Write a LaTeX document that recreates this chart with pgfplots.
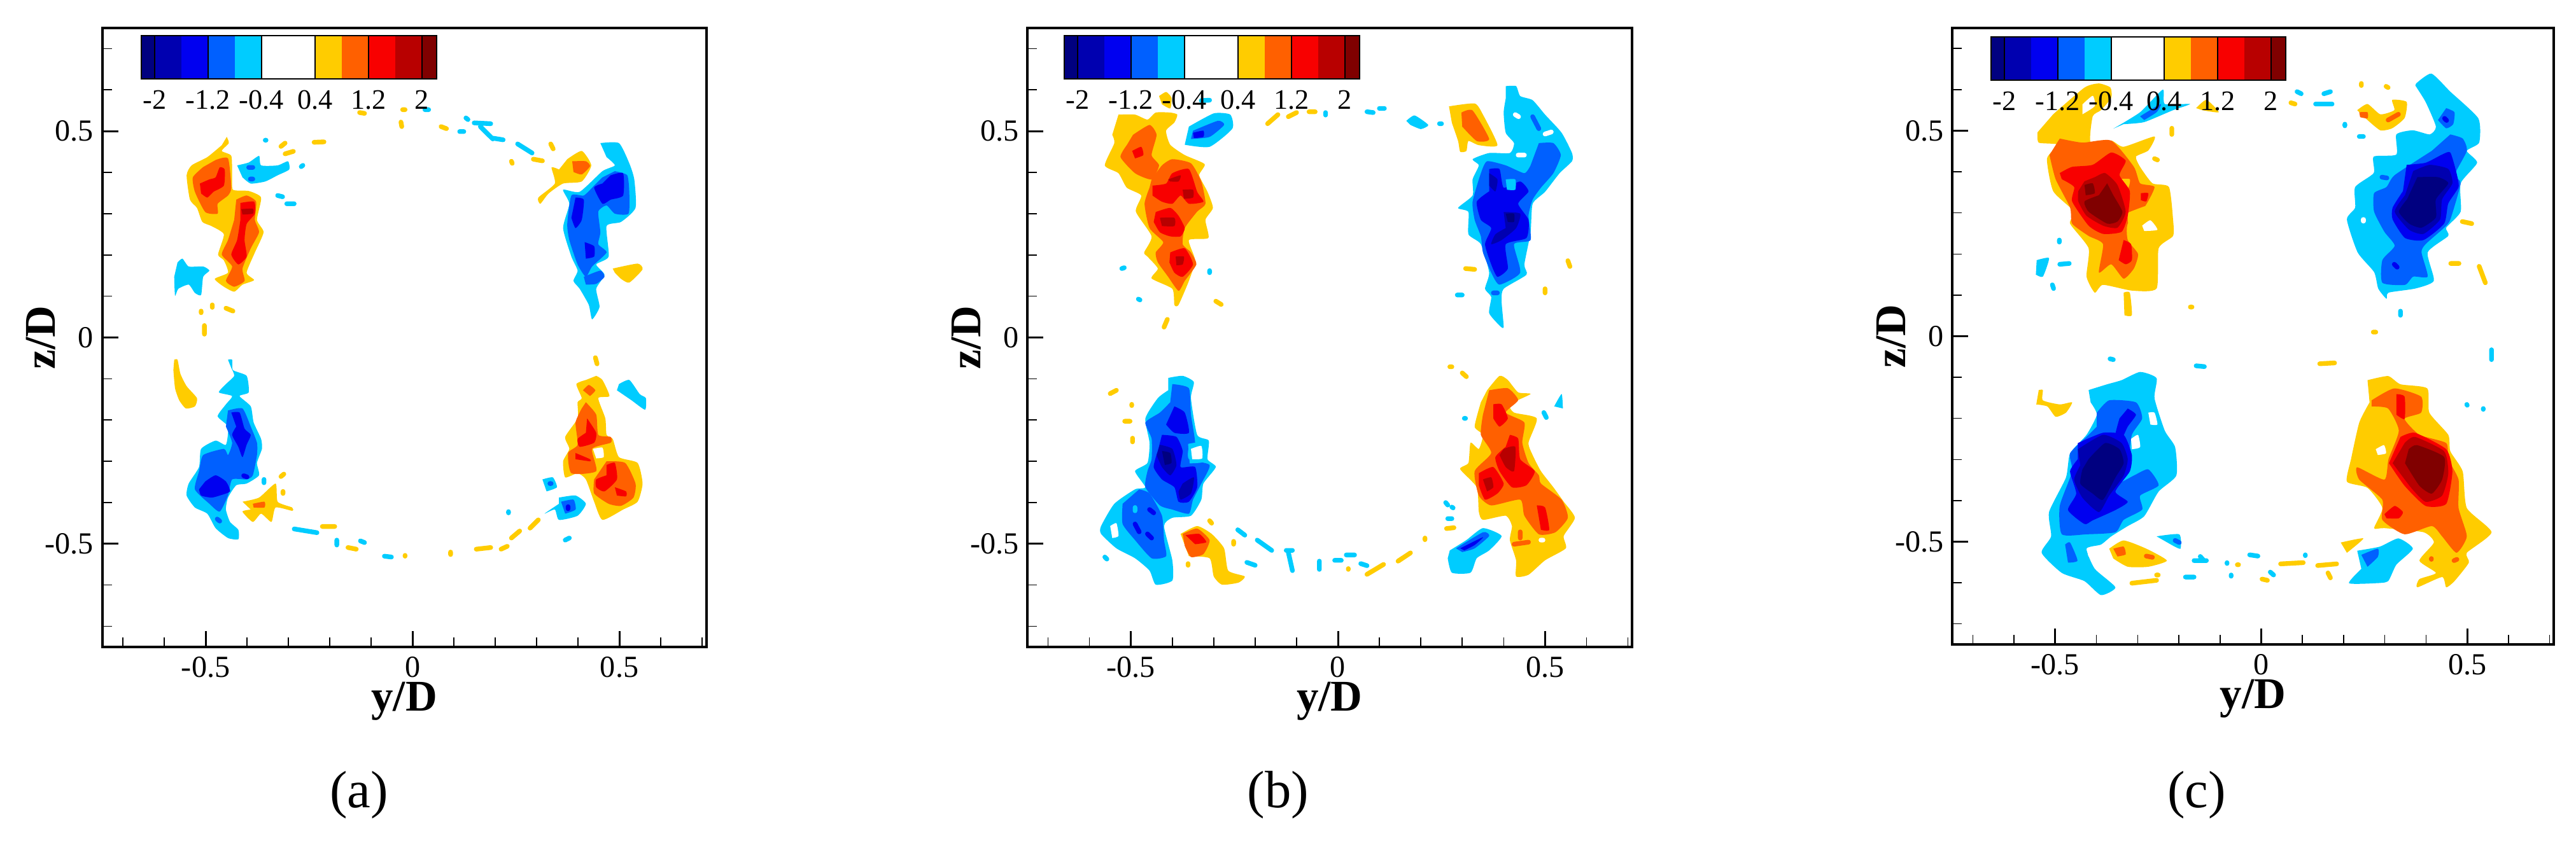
\documentclass[border=0pt]{standalone}
\usepackage{fontspec}
\setmainfont{Liberation Serif}
\usepackage{pgfplots}
\pgfplotsset{compat=1.18}
\definecolor{c1}{HTML}{00CCFF}
\definecolor{c2}{HTML}{0060FF}
\definecolor{c3}{HTML}{0000F0}
\definecolor{c4}{HTML}{0000B0}
\definecolor{c5}{HTML}{000080}
\definecolor{w1}{HTML}{FFCC00}
\definecolor{w2}{HTML}{FF6000}
\definecolor{w3}{HTML}{F80000}
\definecolor{w4}{HTML}{B80000}
\definecolor{w5}{HTML}{800000}
\pgfplotsset{
  B/.style={fill=#1,draw=none},
  F/.style={fill=#1,draw=none,smooth,tension=0.35},
  S/.style={draw=#1,line width=2.1pt,line cap=round,line join=round},
  panel/.style={
    scale only axis,anchor=south west,axis on top,
    unbounded coords=jump,
    xmin=-0.75,xmax=0.71,ymin=-0.75,ymax=0.75,
    xtick={-0.5,0,0.5},ytick={-0.5,0,0.5},
    xticklabels={-0.5,0,0.5},yticklabels={-0.5,0,0.5},
    minor xtick={-0.7,-0.6,-0.4,-0.3,-0.2,-0.1,0.1,0.2,0.3,0.4,0.6,0.7},
    minor ytick={-0.7,-0.6,-0.4,-0.3,-0.2,-0.1,0.1,0.2,0.3,0.4,0.6,0.7},
    xtick pos=bottom,ytick pos=left,tick align=inside,
    major tick length=0.25cm,minor tick length=0.15cm,
    axis line style={line width=1.1pt},
    every major tick/.style={black,line width=0.85pt},
    every minor tick/.style={black,line width=0.45pt},
    tick label style={font=\fontsize{13.7}{14}\selectfont,inner sep=0pt},
    xticklabel style={yshift=-0.15cm},
    yticklabel style={xshift=-0.13cm},
    xlabel={y/D},ylabel={z/D},
    every axis x label/.style={at={(axis description cs:0.5,0)},anchor=base,inner sep=0pt,yshift=-1cm,font=\bfseries\fontsize{19.6}{20}\selectfont},
    every axis y label/.style={at={(axis description cs:0,0.5)},shift={(-0.74cm,0)},rotate=90,anchor=base,inner sep=0pt,font=\bfseries\fontsize{19.6}{20}\selectfont},
  },
}
% contour level legend of one panel: lower left corner, width
\newcommand{\levelbar}[3]{
\begin{axis}[scale only axis,anchor=south west,at={(#1cm,#2cm)},width=#3cm,height=0.68cm,
  xmin=-2.2,xmax=2.22,ymin=0,ymax=1,axis on top,
  xtick={-2,-1.2,-0.4,0.4,1.2,2},xticklabels={-2,-1.2,-0.4,0.4,1.2,2},ytick=\empty,
  xmajorgrids,grid style={black,line width=0.6pt},major tick length=0pt,
  axis line style={line width=0.7pt},xtick pos=bottom,
  tick label style={font=\fontsize{12.6}{13}\selectfont},xticklabel style={yshift=-0.06cm}]
\addplot[B=c5] coordinates {(-2.2,0)(-2,0)(-2,1)(-2.2,1)};
\addplot[B=c4] coordinates {(-2,0)(-1.6,0)(-1.6,1)(-2,1)};
\addplot[B=c3] coordinates {(-1.6,0)(-1.2,0)(-1.2,1)(-1.6,1)};
\addplot[B=c2] coordinates {(-1.2,0)(-0.8,0)(-0.8,1)(-1.2,1)};
\addplot[B=c1] coordinates {(-0.8,0)(-0.4,0)(-0.4,1)(-0.8,1)};
\addplot[B=w1] coordinates {(0.4,0)(0.8,0)(0.8,1)(0.4,1)};
\addplot[B=w2] coordinates {(0.8,0)(1.2,0)(1.2,1)(0.8,1)};
\addplot[B=w3] coordinates {(1.2,0)(1.6,0)(1.6,1)(1.2,1)};
\addplot[B=w4] coordinates {(1.6,0)(2,0)(2,1)(1.6,1)};
\addplot[B=w5] coordinates {(2,0)(2.22,0)(2.22,1)(2,1)};
\end{axis}}
\begin{document}
\begin{tikzpicture}
\path[use as bounding box] (0,0) rectangle (40.47,13.21);
%% panel a
\begin{axis}[panel,at={(1.606cm,3.04cm)},width=9.49cm,height=9.73cm]
\addplot[F=w1] coordinates {(-.449,.486)(-.444,.471)(-.461,.452)(-.438,.440)(-.436,.393)(-.434,.358)(-.396,.355)(-.366,.339)(-.376,.285)(-.360,.255)(-.381,.206)(-.401,.157)(-.383,.139)(-.411,.128)(-.431,.111)(-.456,.123)(-.478,.142)(-.446,.157)(-.456,.187)(-.470,.201)(-.456,.250)(-.486,.270)(-.508,.280)(-.521,.314)(-.538,.334)(-.546,.393)(-.534,.417)(-.496,.437)(-.461,.466)};
\addplot[F=w2] coordinates {(-.476,.430)(-.446,.434)(-.438,.363)(-.446,.344)(-.471,.324)(-.471,.300)(-.501,.304)(-.526,.353)(-.531,.388)(-.506,.413)};
\addplot[F=w2] coordinates {(-.426,.334)(-.401,.344)(-.378,.329)(-.381,.285)(-.371,.255)(-.391,.216)(-.411,.167)(-.406,.137)(-.431,.123)(-.451,.137)(-.436,.172)(-.461,.201)(-.446,.236)(-.431,.285)};
\addplot[F=w3] coordinates {(-.514,.373)(-.491,.383)(-.476,.388)(-.466,.412)(-.454,.407)(-.456,.368)(-.481,.353)(-.496,.339)(-.511,.349)};
\addplot[F=w3] coordinates {(-.416,.326)(-.383,.329)(-.381,.300)(-.401,.275)(-.406,.236)(-.401,.196)(-.421,.177)(-.438,.201)(-.424,.236)(-.416,.285)};
\addplot[F=w4] coordinates {(-.414,.311)(-.386,.312)(-.386,.300)(-.411,.298)};
\addplot[F=c1] coordinates {(-.424,.417)(-.396,.424)(-.371,.440)(-.366,.417)(-.326,.417)(-.301,.427)(-.298,.407)(-.326,.393)(-.356,.378)(-.391,.373)(-.411,.388)};
\addplot[F=c1] coordinates {(-.568,.182)(-.556,.191)(-.541,.172)(-.506,.172)(-.491,.162)(-.506,.147)(-.511,.103)(-.526,.108)(-.541,.128)(-.566,.118)(-.574,.101)(-.576,.147)};
\addplot[F=w1] coordinates {(-.576,-.054)(-.568,-.054)(-.561,-.088)(-.546,-.118)(-.521,-.147)(-.526,-.167)(-.548,-.172)(-.564,-.152)(-.574,-.123)(-.578,-.079)};
\addplot[F=c1] coordinates {(-.446,-.054)(-.436,-.054)(-.434,-.079)(-.401,-.093)(-.396,-.133)(-.418,-.142)(-.391,-.167)(-.384,-.206)(-.366,-.246)(-.364,-.270)(-.376,-.304)(-.371,-.334)(-.401,-.354)(-.426,-.358)(-.446,-.388)(-.451,-.417)(-.441,-.447)(-.421,-.466)(-.421,-.489)(-.446,-.486)(-.476,-.462)(-.496,-.427)(-.526,-.412)(-.546,-.383)(-.541,-.354)(-.516,-.314)(-.511,-.270)(-.476,-.250)(-.451,-.260)(-.446,-.216)(-.471,-.191)(-.451,-.162)(-.436,-.142)(-.468,-.133)(-.451,-.113)(-.431,-.093)(-.438,-.074)};
\addplot[F=c2] coordinates {(-.446,-.177)(-.411,-.172)(-.391,-.216)(-.376,-.255)(-.376,-.285)(-.386,-.334)(-.401,-.344)(-.436,-.344)(-.446,-.383)(-.466,-.422)(-.491,-.403)(-.526,-.368)(-.516,-.324)(-.506,-.285)(-.456,-.270)(-.446,-.285)(-.436,-.255)(-.451,-.216)};
\addplot[F=c3] coordinates {(-.438,-.182)(-.418,-.182)(-.406,-.221)(-.391,-.236)(-.401,-.260)(-.411,-.290)(-.421,-.265)(-.436,-.236)(-.426,-.216)};
\addplot[F=c3] coordinates {(-.501,-.349)(-.476,-.334)(-.451,-.349)(-.441,-.373)(-.466,-.383)(-.486,-.388)(-.511,-.383)(-.516,-.368)};
\addplot[F=w1] coordinates {(-.411,-.398)(-.371,-.388)(-.331,-.354)(-.326,-.398)(-.291,-.412)(-.291,-.420)(-.331,-.412)(-.341,-.447)(-.366,-.427)(-.386,-.447)(-.411,-.422)(-.391,-.417)};
\addplot[F=w2] coordinates {(-.386,-.403)(-.358,-.398)(-.358,-.412)(-.384,-.412)};
\addplot[F=c1] coordinates {(.454,.471)(.499,.471)(.524,.422)(.536,.383)(.539,.314)(.504,.280)(.469,.270)(.474,.196)(.444,.177)(.464,.152)(.444,.118)(.452,.074)(.434,.044)(.426,.079)(.404,.118)(.389,.137)(.399,.162)(.384,.196)(.364,.265)(.379,.324)(.364,.358)(.404,.353)(.459,.403)(.489,.417)(.469,.437)};
\addplot[F=c2] coordinates {(.489,.403)(.519,.393)(.524,.349)(.522,.300)(.489,.300)(.469,.320)(.449,.305)(.454,.255)(.449,.226)(.469,.206)(.434,.172)(.419,.147)(.399,.177)(.379,.236)(.374,.275)(.384,.344)(.414,.344)(.439,.368)(.459,.388)};
\addplot[F=c3] coordinates {(.479,.393)(.509,.398)(.509,.344)(.479,.334)(.459,.324)(.439,.363)(.459,.373)};
\addplot[F=c3] coordinates {(.394,.339)(.414,.334)(.409,.285)(.394,.265)(.384,.290)};
\addplot[F=c3] coordinates {(.416,.231)(.439,.221)(.439,.196)(.419,.191)};
\addplot[F=c2] coordinates {(.414,.147)(.454,.162)(.464,.147)(.444,.130)(.419,.128)};
\addplot[F=w1] coordinates {(.374,.432)(.409,.452)(.432,.417)(.409,.378)(.364,.373)(.329,.349)(.309,.324)(.304,.339)(.344,.373)(.336,.412)(.354,.407)};
\addplot[F=w2] coordinates {(.386,.427)(.419,.427)(.429,.415)(.409,.395)(.389,.401)};
\addplot[F=w1] coordinates {(.484,.167)(.544,.179)(.556,.165)(.524,.133)(.504,.142)(.489,.157)};
\addplot[F=w1] coordinates {(.444,-.093)(.459,-.103)(.476,-.142)(.449,-.147)(.466,-.196)(.469,-.236)(.484,-.246)(.499,-.290)(.544,-.304)(.556,-.354)(.544,-.398)(.509,-.417)(.459,-.442)(.439,-.398)(.419,-.344)(.399,-.329)(.369,-.339)(.364,-.300)(.379,-.270)(.369,-.241)(.399,-.196)(.399,-.157)(.409,-.147)(.396,-.113)(.419,-.103)};
\addplot[F=w2] coordinates {(.412,-.128)(.426,-.115)(.442,-.128)(.429,-.142)};
\addplot[F=w2] coordinates {(.419,-.157)(.444,-.187)(.449,-.236)(.479,-.241)(.479,-.255)(.434,-.270)(.444,-.324)(.384,-.329)(.376,-.280)(.399,-.260)(.394,-.206)(.409,-.172)};
\addplot[F=w3] coordinates {(.422,-.196)(.444,-.231)(.439,-.255)(.404,-.265)(.399,-.246)(.419,-.231)};
\addplot[F=w3] coordinates {(.394,-.280)(.429,-.295)(.429,-.300)(.394,-.295)};
\addplot[F=w2] coordinates {(.469,-.300)(.514,-.304)(.539,-.354)(.534,-.388)(.504,-.408)(.474,-.403)(.439,-.378)(.439,-.344)};
\addplot[F=w3] coordinates {(.469,-.309)(.489,-.304)(.494,-.344)(.464,-.373)(.444,-.363)(.444,-.344)(.469,-.334)};
\addplot[F=w3] coordinates {(.489,-.363)(.516,-.373)(.516,-.385)(.494,-.383)};
\addplot[F=white] coordinates {(.436,-.270)(.459,-.267)(.462,-.290)(.444,-.293)};
\addplot[F=c1] coordinates {(.499,-.113)(.524,-.103)(.549,-.137)(.564,-.147)(.562,-.175)(.529,-.152)(.494,-.128)};
\addplot[F=c1] coordinates {(.314,-.344)(.339,-.339)(.349,-.363)(.324,-.373)};
\addplot[F=c1] coordinates {(.354,-.388)(.394,-.383)(.419,-.403)(.399,-.432)(.354,-.442)(.344,-.417)(.319,-.427)(.354,-.403)};
\addplot[F=c2] coordinates {(.359,-.398)(.389,-.393)(.394,-.417)(.369,-.427)};
\addplot[S=c1] coordinates {(.149,.520)(.189,.518)(nan,nan)(.164,.511)(.194,.481)(nan,nan)(.194,.483)(.219,.479)(nan,nan)(.254,.469)(.289,.447)(nan,nan)(.114,.499)(.124,.499)(nan,nan)(.129,.532)(.134,.528)(nan,nan)(-.356,.478)(-.354,.478)(nan,nan)(-.326,.344)(-.314,.341)(nan,nan)(-.304,.324)(-.286,.324)(nan,nan)(-.269,.414)(-.265,.417)(nan,nan)(-.183,-.491)(-.183,-.503)(nan,nan)(-.286,-.464)(-.231,-.473)(nan,nan)(-.126,-.493)(-.116,-.497)(nan,nan)(-.068,-.530)(-.051,-.532)(nan,nan)(.369,-.491)(.379,-.486)(nan,nan)(.232,-.422)(.232,-.425)(nan,nan)(-.359,-.344)(-.359,-.352)(nan,nan)(.030,.552)(.039,.552)};
\addplot[S=w1] coordinates {(-.028,.522)(-.026,.511)(nan,nan)(-.024,.552)(-.018,.552)(nan,nan)(-.128,.545)(-.116,.543)(nan,nan)(.069,.511)(.082,.506)(nan,nan)(.334,.469)(.340,.457)(nan,nan)(.292,.432)(.314,.428)(nan,nan)(.239,.427)(.241,.422)(nan,nan)(-.238,.473)(-.214,.474)(nan,nan)(-.318,.463)(-.308,.471)(nan,nan)(-.308,.445)(-.288,.451)(nan,nan)(-.511,.064)(-.511,.060)(nan,nan)(-.484,.079)(-.484,.073)(nan,nan)(-.451,.071)(-.434,.064)(nan,nan)(-.503,.029)(-.503,.008)(nan,nan)(.442,-.049)(.446,-.064)(nan,nan)(-.311,-.331)(-.318,-.337)(nan,nan)(-.313,-.373)(-.313,-.378)(nan,nan)(-.218,-.458)(-.188,-.458)(nan,nan)(-.156,-.509)(-.136,-.513)(nan,nan)(-.018,-.528)(-.018,-.530)(nan,nan)(.092,-.520)(.092,-.526)(nan,nan)(.154,-.513)(.189,-.509)(nan,nan)(.214,-.513)(.229,-.506)(nan,nan)(.239,-.486)(.259,-.469)(nan,nan)(.284,-.462)(.304,-.442)};
\addplot[S=c2] coordinates {(-.396,.412)(-.386,.412)(nan,nan)(-.392,.384)(-.386,.384)(nan,nan)(.335,-.354)(.332,-.354)(nan,nan)(-.472,-.440)(-.466,-.445)};
\addplot[S=c3] coordinates {(.376,-.410)(.376,-.415)(nan,nan)(-.408,-.335)(-.400,-.338)};
\end{axis}
\levelbar{2.22}{11.97}{4.64}
%% panel b
\begin{axis}[panel,at={(16.14cm,3.04cm)},width=9.50cm,height=9.73cm]
\addplot[F=w1] coordinates {(-.530,.540)(-.490,.540)(-.460,.528)(-.440,.545)(-.405,.545)(-.388,.540)(-.395,.521)(-.415,.501)(-.405,.467)(-.370,.442)(-.322,.420)(-.335,.393)(-.315,.353)(-.302,.314)(-.320,.285)(-.313,.241)(-.360,.236)(-.345,.187)(-.360,.137)(-.385,.079)(-.395,.079)(-.400,.118)(-.450,.143)(-.435,.167)(-.460,.196)(-.468,.206)(-.450,.245)(-.488,.305)(-.475,.344)(-.510,.363)(-.530,.398)(-.563,.417)(-.540,.471)(-.545,.491)};
\addplot[F=w1] coordinates {(-.432,.585)(-.415,.595)(-.402,.581)(-.405,.555)(-.425,.565)};
\addplot[F=w2] coordinates {(-.495,.491)(-.455,.515)(-.438,.491)(-.450,.442)(-.432,.417)(-.450,.383)(-.490,.398)(-.525,.437)(-.510,.466)};
\addplot[F=w2] coordinates {(-.450,.383)(-.425,.417)(-.400,.432)(-.355,.422)(-.330,.378)(-.320,.324)(-.340,.305)(-.370,.265)(-.375,.226)(-.355,.206)(-.342,.177)(-.370,.137)(-.385,.113)(-.410,.147)(-.435,.182)(-.440,.206)(-.422,.231)(-.455,.265)(-.467,.324)(-.455,.363)};
\addplot[F=w3] coordinates {(-.448,.368)(-.415,.373)(-.400,.398)(-.360,.408)(-.340,.353)(-.325,.329)(-.360,.324)(-.380,.344)(-.400,.324)(-.425,.329)(-.448,.344)};
\addplot[F=w3] coordinates {(-.440,.304)(-.405,.314)(-.385,.295)(-.370,.265)(-.380,.245)(-.405,.245)(-.430,.255)(-.445,.280)};
\addplot[F=w3] coordinates {(-.405,.206)(-.370,.216)(-.350,.177)(-.375,.147)(-.395,.157)(-.407,.182)};
\addplot[F=w3] coordinates {(-.497,.452)(-.475,.462)(-.470,.442)(-.490,.434)};
\addplot[F=w4] coordinates {(-.410,.383)(-.380,.393)(-.385,.378)(-.405,.378)};
\addplot[F=w4] coordinates {(-.375,.358)(-.350,.358)(-.350,.339)(-.372,.336)};
\addplot[F=w4] coordinates {(-.430,.290)(-.395,.290)(-.395,.270)(-.425,.270)};
\addplot[F=w4] coordinates {(-.392,.196)(-.372,.196)(-.375,.177)(-.390,.175)};
\addplot[F=c1] coordinates {(-.360,.511)(-.300,.543)(-.260,.540)(-.255,.506)(-.310,.462)(-.370,.467)};
\addplot[F=c2] coordinates {(-.350,.501)(-.290,.525)(-.275,.515)(-.310,.486)(-.355,.481)};
\addplot[F=c3] coordinates {(-.350,.496)(-.325,.501)(-.325,.486)(-.348,.483)};
\addplot[F=c1] coordinates {(.165,.525)(.185,.538)(.218,.515)(.200,.505)(.175,.515)};
\addplot[F=w1] coordinates {(.268,.560)(.330,.567)(.350,.540)(.385,.466)(.340,.466)(.315,.476)(.310,.452)(.295,.450)(.290,.476)(.275,.520)};
\addplot[F=w2] coordinates {(.298,.545)(.325,.550)(.365,.481)(.335,.476)(.300,.511)};
\addplot[F=c1] coordinates {(.405,.609)(.430,.609)(.440,.585)(.470,.575)(.500,.540)(.540,.496)(.565,.447)(.565,.427)(.535,.398)(.500,.353)(.470,.324)(.465,.255)(.450,.177)(.455,.152)(.400,.118)(.395,.088)(.400,.025)(.390,.029)(.365,.059)(.370,.098)(.355,.118)(.365,.157)(.345,.226)(.315,.250)(.315,.304)(.290,.314)(.325,.344)(.325,.383)(.340,.417)(.325,.432)(.365,.447)(.415,.447)(.425,.471)(.405,.496)(.400,.545)(.405,.579)};
\addplot[F=c2] coordinates {(.485,.471)(.520,.471)(.538,.442)(.520,.398)(.490,.363)(.470,.334)(.460,.295)(.465,.236)(.425,.226)(.440,.157)(.390,.128)(.370,.157)(.350,.206)(.345,.245)(.330,.285)(.325,.329)(.345,.398)(.360,.427)(.405,.417)(.450,.398)(.465,.417)};
\addplot[F=c3] coordinates {(.365,.408)(.390,.408)(.400,.363)(.440,.378)(.460,.354)(.435,.324)(.460,.285)(.455,.241)(.405,.226)(.410,.167)(.385,.147)(.370,.177)(.355,.226)(.370,.265)(.345,.285)(.335,.329)(.365,.354)};
\addplot[F=c4] coordinates {(.400,.304)(.440,.300)(.430,.265)(.395,.236)(.370,.226)(.380,.250)(.405,.265)};
\addplot[F=c4] coordinates {(.365,.398)(.385,.383)(.380,.354)(.365,.368)};
\addplot[F=c5] coordinates {(.405,.300)(.425,.300)(.425,.280)(.410,.280)};
\addplot[F=c1] coordinates {(.405,.383)(.428,.383)(.428,.358)(.408,.358)};
\addplot[F=c1] coordinates {(-.410,-.098)(-.375,-.093)(-.348,-.108)(-.355,-.147)(-.340,-.236)(-.312,-.250)(-.315,-.295)(-.295,-.314)(-.325,-.354)(-.330,-.393)(-.355,-.432)(-.400,-.437)(-.420,-.457)(-.400,-.540)(-.400,-.589)(-.440,-.599)(-.455,-.565)(-.490,-.535)(-.535,-.511)(-.572,-.476)(-.572,-.457)(-.540,-.403)(-.490,-.368)(-.465,-.363)(-.490,-.324)(-.460,-.304)(-.455,-.255)(-.465,-.196)(-.435,-.147)(-.410,-.128)};
\addplot[F=c2] coordinates {(-.400,-.113)(-.360,-.123)(-.355,-.187)(-.345,-.255)(-.360,-.265)(-.360,-.295)(-.310,-.309)(-.330,-.354)(-.350,-.393)(-.360,-.427)(-.400,-.417)(-.430,-.407)(-.465,-.363)(-.460,-.324)(-.450,-.295)(-.450,-.245)(-.465,-.206)(-.430,-.182)(-.405,-.157)};
\addplot[F=c2] coordinates {(-.480,-.368)(-.455,-.378)(-.425,-.432)(-.420,-.491)(-.415,-.530)(-.450,-.535)(-.490,-.491)(-.520,-.452)(-.520,-.403)};
\addplot[F=c3] coordinates {(-.395,-.167)(-.370,-.182)(-.360,-.231)(-.395,-.231)(-.415,-.211)};
\addplot[F=c3] coordinates {(-.425,-.236)(-.390,-.241)(-.375,-.275)(-.380,-.314)(-.345,-.314)(-.340,-.363)(-.360,-.398)(-.385,-.398)(-.395,-.363)(-.425,-.344)(-.445,-.314)(-.435,-.275)};
\addplot[F=c4] coordinates {(-.430,-.260)(-.400,-.270)(-.390,-.309)(-.405,-.334)(-.425,-.314)(-.438,-.285)};
\addplot[F=c4] coordinates {(-.375,-.354)(-.348,-.339)(-.355,-.378)(-.380,-.393)(-.385,-.373)};
\addplot[F=c5] coordinates {(-.425,-.275)(-.405,-.280)(-.402,-.304)(-.418,-.309)};
\addplot[F=c1] coordinates {(-.362,-.258)(-.325,-.255)(-.320,-.300)(-.358,-.305)};
\addplot[F=white] coordinates {(-.355,-.270)(-.330,-.263)(-.328,-.293)(-.352,-.295)};
\addplot[F=white] coordinates {(-.550,-.457)(-.535,-.450)(-.530,-.481)(-.545,-.486)};
\addplot[F=w1] coordinates {(-.380,-.476)(-.340,-.457)(-.305,-.476)(-.275,-.511)(-.265,-.565)(-.225,-.579)(-.240,-.594)(-.280,-.599)(-.300,-.579)(-.310,-.535)(-.360,-.530)};
\addplot[F=w2] coordinates {(-.375,-.476)(-.340,-.463)(-.310,-.491)(-.325,-.525)(-.355,-.532)(-.370,-.505)};
\addplot[F=w3] coordinates {(-.368,-.479)(-.335,-.476)(-.318,-.496)(-.345,-.501)};
\addplot[F=w1] coordinates {(.360,-.128)(.390,-.093)(.410,-.103)(.435,-.133)(.465,-.137)(.415,-.162)(.425,-.182)(.480,-.196)(.460,-.255)(.470,-.285)(.490,-.324)(.520,-.363)(.545,-.398)(.572,-.437)(.545,-.481)(.550,-.511)(.500,-.540)(.460,-.575)(.430,-.579)(.430,-.540)(.415,-.491)(.420,-.457)(.405,-.432)(.350,-.442)(.340,-.422)(.335,-.363)(.295,-.319)(.315,-.304)(.320,-.255)(.340,-.270)(.350,-.236)(.330,-.216)(.345,-.157)};
\addplot[F=w2] coordinates {(.365,-.128)(.410,-.123)(.435,-.152)(.405,-.182)(.450,-.206)(.445,-.255)(.460,-.304)(.485,-.334)(.490,-.354)(.540,-.393)(.555,-.437)(.525,-.472)(.485,-.477)(.450,-.432)(.440,-.393)(.370,-.407)(.340,-.383)(.330,-.324)(.370,-.280)(.345,-.236)(.350,-.187)};
\addplot[F=w3] coordinates {(.375,-.162)(.395,-.162)(.410,-.196)(.390,-.216)(.375,-.196)};
\addplot[F=w3] coordinates {(.415,-.236)(.435,-.245)(.440,-.295)(.475,-.324)(.455,-.358)(.420,-.363)(.390,-.324)(.380,-.290)(.405,-.265)};
\addplot[F=w3] coordinates {(.340,-.329)(.375,-.314)(.400,-.354)(.385,-.378)(.355,-.393)(.340,-.358)};
\addplot[F=w3] coordinates {(.480,-.407)(.500,-.412)(.510,-.466)(.490,-.466)};
\addplot[F=w4] coordinates {(.400,-.270)(.428,-.265)(.425,-.324)(.405,-.314)(.390,-.285)};
\addplot[F=w4] coordinates {(.350,-.344)(.370,-.339)(.375,-.363)(.360,-.373)};
\addplot[F=c1] coordinates {(.270,-.516)(.310,-.491)(.350,-.462)(.395,-.481)(.365,-.516)(.335,-.535)(.320,-.570)(.275,-.570)(.265,-.535)};
\addplot[F=c2] coordinates {(.285,-.511)(.350,-.472)(.365,-.481)(.330,-.511)(.300,-.520)};
\addplot[F=c3] coordinates {(.295,-.511)(.350,-.484)(.330,-.503)(.305,-.516)};
\addplot[F=c1] coordinates {(.522,-.167)(.540,-.137)(.543,-.172)};
\addplot[S=c1] coordinates {(-.522,.167)(-.516,.169)(nan,nan)(-.310,.157)(-.310,.162)(nan,nan)(-.482,.093)(-.478,.091)(nan,nan)(.288,.103)(.300,.103)(nan,nan)(.070,.547)(.085,.545)(nan,nan)(.100,.555)(.112,.555)(nan,nan)(-.030,.539)(-.030,.545)(nan,nan)(-.330,.574)(-.310,.575)(nan,nan)(.245,.518)(.250,.518)(nan,nan)(.305,-.196)(.308,-.196)(nan,nan)(.497,-.182)(.503,-.194)(nan,nan)(-.242,-.466)(-.225,-.479)(nan,nan)(-.195,-.491)(-.160,-.516)(nan,nan)(-.120,-.520)(-.110,-.565)(nan,nan)(-.125,-.516)(-.110,-.516)(nan,nan)(-.220,-.545)(-.200,-.552)(nan,nan)(-.045,-.542)(-.045,-.562)(nan,nan)(-.008,-.540)(.008,-.540)(nan,nan)(.020,-.527)(.040,-.527)(nan,nan)(.055,-.548)(.070,-.553)(nan,nan)(.260,-.400)(.265,-.406)(nan,nan)(.275,-.411)(.278,-.413)(nan,nan)(.265,-.439)(.275,-.439)(nan,nan)(-.563,-.532)(-.558,-.537)(nan,nan)(-.490,-.412)(-.490,-.420)};
\addplot[S=w1] coordinates {(-.170,.518)(-.145,.540)(nan,nan)(-.120,.535)(-.100,.545)(nan,nan)(-.070,.547)(-.055,.547)(nan,nan)(.500,.118)(.500,.108)(nan,nan)(.555,.186)(.560,.172)(nan,nan)(.308,.167)(.330,.165)(nan,nan)(-.295,.088)(-.282,.080)(nan,nan)(-.412,.044)(-.420,.025)(nan,nan)(-.535,-.128)(-.550,-.136)(nan,nan)(-.498,-.162)(-.498,-.165)(nan,nan)(-.515,-.203)(-.502,-.203)(nan,nan)(-.496,-.244)(-.496,-.253)(nan,nan)(.300,-.086)(.310,-.095)(nan,nan)(.270,-.071)(.275,-.071)(nan,nan)(-.252,-.494)(-.252,-.501)(nan,nan)(-.310,-.444)(-.305,-.450)(nan,nan)(-.362,-.548)(-.362,-.552)(nan,nan)(.025,-.560)(.025,-.562)(nan,nan)(.070,-.574)(.110,-.550)(nan,nan)(.145,-.542)(.175,-.522)(nan,nan)(.210,-.486)(.210,-.490)(nan,nan)(.262,-.463)(.280,-.461)};
\addplot[S=w2] coordinates {(.425,-.501)(.460,-.496)(nan,nan)(.440,-.471)(.440,-.486)};
\addplot[S=white] coordinates {(.490,-.491)(.495,-.491)(nan,nan)(.428,.540)(.436,.535)(nan,nan)(.500,.493)(.515,.498)(nan,nan)(.435,.442)(.450,.442)};
\addplot[S=c2] coordinates {(.470,.535)(.485,.506)(nan,nan)(.375,.108)(.385,.108)};
\addplot[S=c3] coordinates {(-.455,-.417)(-.445,-.425)(nan,nan)(-.490,-.452)(-.480,-.471)(nan,nan)(-.460,-.476)(-.450,-.486)};
\end{axis}
\levelbar{16.72}{11.97}{4.64}
%% panel c
\begin{axis}[panel,at={(30.67cm,3.08cm)},width=9.45cm,height=9.69cm]
\addplot[F=w1] coordinates {(-.505,.540)(-.429,.605)(-.394,.615)(-.366,.605)(-.364,.580)(-.389,.550)(-.409,.535)(-.414,.471)(-.364,.476)(-.334,.461)(-.259,.486)(-.274,.452)(-.304,.437)(-.294,.412)(-.264,.372)(-.224,.363)(-.214,.284)(-.214,.244)(-.249,.214)(-.254,.116)(-.314,.111)(-.384,.125)(-.404,.106)(-.424,.145)(-.419,.214)(-.464,.274)(-.454,.303)(-.505,.353)(-.520,.432)(-.494,.466)(-.540,.471)(-.543,.496)};
\addplot[F=white] coordinates {(-.434,.564)(-.409,.585)(-.404,.560)(-.434,.540)};
\addplot[F=w2] coordinates {(-.489,.481)(-.434,.471)(-.364,.476)(-.309,.412)(-.294,.372)(-.259,.363)(-.284,.313)(-.324,.274)(-.324,.234)(-.299,.200)(-.309,.165)(-.334,.140)(-.364,.175)(-.394,.155)(-.384,.224)(-.419,.244)(-.459,.274)(-.464,.313)(-.499,.382)(-.514,.441)};
\addplot[F=w1] coordinates {(-.349,.382)(-.319,.382)(-.324,.358)(-.344,.363)};
\addplot[F=w1] coordinates {(-.325,.300)(-.268,.320)(-.262,.290)(-.250,.235)(-.320,.235)};
\addplot[F=white] coordinates {(-.289,.269)(-.269,.282)(-.252,.259)(-.284,.256)};
\addplot[F=w3] coordinates {(-.489,.397)(-.459,.412)(-.409,.417)(-.364,.447)(-.329,.427)(-.344,.392)(-.319,.353)(-.324,.293)(-.339,.254)(-.384,.249)(-.419,.269)(-.459,.328)(-.454,.363)(-.484,.382)};
\addplot[F=w4] coordinates {(-.429,.377)(-.404,.387)(-.379,.397)(-.349,.368)(-.329,.303)(-.349,.264)(-.384,.269)(-.424,.293)(-.444,.328)(-.444,.353)};
\addplot[F=w5] coordinates {(-.374,.372)(-.359,.343)(-.337,.303)(-.349,.279)(-.374,.274)(-.419,.303)(-.429,.328)(-.394,.343)};
\addplot[F=w5] coordinates {(-.429,.368)(-.409,.372)(-.404,.348)(-.426,.343)};
\addplot[F=w3] coordinates {(-.334,.234)(-.316,.224)(-.314,.185)(-.329,.175)(-.346,.185)};
\addplot[F=w3] coordinates {(-.292,.348)(-.274,.348)(-.279,.328)(-.292,.331)};
\addplot[F=c1] coordinates {(-.545,.185)(-.515,.190)(-.530,.145)(-.547,.150)};
\addplot[F=c1] coordinates {(-.359,.505)(-.294,.545)(-.239,.600)(-.234,.565)(-.173,.565)(-.214,.550)(-.284,.521)(-.334,.516)};
\addplot[F=c2] coordinates {(-.294,.535)(-.244,.565)(-.254,.545)(-.284,.526)};
\addplot[F=w1] coordinates {(-.158,.555)(-.133,.575)(-.103,.545)(-.143,.550)};
\addplot[F=w1] coordinates {(-.334,.106)(-.319,.106)(-.314,.051)(-.332,.051)};
\addplot[F=w1] coordinates {(.233,.550)(.258,.565)(.289,.540)(.323,.550)(.318,.575)(.353,.570)(.348,.531)(.318,.506)(.289,.501)(.258,.526)};
\addplot[F=w2] coordinates {(.238,.545)(.258,.545)(.258,.530)(.240,.533)};
\addplot[F=c1] coordinates {(.376,.615)(.413,.639)(.459,.595)(.527,.530)(.529,.471)(.499,.451)(.524,.422)(.484,.372)(.484,.303)(.449,.264)(.454,.244)(.404,.204)(.419,.135)(.374,.116)(.309,.106)(.304,.091)(.284,.116)(.274,.156)(.234,.204)(.208,.284)(.228,.313)(.228,.363)(.273,.397)(.273,.437)(.328,.442)(.328,.491)(.368,.501)(.409,.491)(.424,.510)(.399,.570)(.374,.610)};
\addplot[F=c2] coordinates {(.459,.491)(.489,.481)(.499,.451)(.469,.392)(.484,.372)(.459,.284)(.444,.264)(.399,.224)(.389,.204)(.404,.145)(.369,.145)(.349,.125)(.294,.130)(.294,.185)(.324,.220)(.299,.254)(.274,.303)(.274,.348)(.304,.363)(.324,.392)(.414,.451)};
\addplot[F=c2] coordinates {(.449,.555)(.469,.545)(.466,.516)(.449,.506)(.429,.526)};
\addplot[F=c3] coordinates {(.353,.417)(.399,.422)(.439,.442)(.459,.447)(.474,.397)(.479,.363)(.454,.323)(.444,.274)(.394,.234)(.349,.239)(.319,.284)(.319,.313)(.344,.353)};
\addplot[F=c4] coordinates {(.369,.402)(.409,.417)(.454,.407)(.464,.372)(.439,.333)(.434,.284)(.394,.249)(.359,.259)(.324,.303)(.349,.343)};
\addplot[F=c5] coordinates {(.379,.387)(.429,.387)(.454,.372)(.424,.333)(.424,.289)(.389,.264)(.359,.274)(.334,.303)(.354,.333)};
\addplot[F=c1] coordinates {(-.419,-.131)(-.374,-.117)(-.339,-.107)(-.294,-.087)(-.254,-.102)(-.259,-.151)(-.234,-.230)(-.209,-.270)(-.206,-.339)(-.249,-.378)(-.284,-.438)(-.324,-.462)(-.364,-.487)(-.389,-.507)(-.424,-.517)(-.404,-.566)(-.354,-.611)(-.389,-.630)(-.429,-.596)(-.484,-.576)(-.533,-.527)(-.510,-.487)(-.515,-.428)(-.474,-.344)(-.464,-.285)(-.424,-.240)(-.399,-.191)(-.414,-.161)};
\addplot[F=c2] coordinates {(-.399,-.186)(-.369,-.156)(-.304,-.161)(-.289,-.200)(-.314,-.240)(-.324,-.309)(-.349,-.358)(-.309,-.339)(-.274,-.324)(-.249,-.363)(-.294,-.388)(-.289,-.422)(-.334,-.447)(-.354,-.477)(-.424,-.482)(-.484,-.482)(-.489,-.413)(-.459,-.329)(-.464,-.285)(-.419,-.240)(-.399,-.220)};
\addplot[F=c3] coordinates {(-.324,-.176)(-.304,-.191)(-.324,-.220)(-.339,-.250)(-.354,-.240)(-.344,-.200)};
\addplot[F=c3] coordinates {(-.445,-.260)(-.384,-.235)(-.334,-.240)(-.314,-.289)(-.319,-.329)(-.354,-.378)(-.324,-.403)(-.354,-.423)(-.409,-.448)(-.429,-.457)(-.469,-.423)(-.449,-.383)(-.464,-.329)(-.445,-.299)};
\addplot[F=c4] coordinates {(-.445,-.275)(-.384,-.240)(-.339,-.260)(-.324,-.299)(-.334,-.339)(-.369,-.388)(-.394,-.428)(-.434,-.393)(-.454,-.349)(-.439,-.314)};
\addplot[F=c5] coordinates {(-.419,-.299)(-.379,-.260)(-.344,-.275)(-.334,-.309)(-.354,-.344)(-.384,-.398)(-.409,-.383)(-.439,-.359)(-.434,-.324)};
\addplot[F=white] coordinates {(-.316,-.250)(-.299,-.240)(-.294,-.270)(-.314,-.275)};
\addplot[F=white] coordinates {(-.274,-.186)(-.259,-.186)(-.252,-.215)(-.269,-.215)};
\addplot[F=c2] coordinates {(-.476,-.507)(-.464,-.502)(-.446,-.546)(-.469,-.551)};
\addplot[F=w1] coordinates {(-.540,-.131)(-.530,-.131)(-.530,-.156)(-.489,-.166)(-.459,-.161)(-.474,-.186)(-.499,-.196)(-.519,-.171)(-.546,-.166)};
\addplot[F=w1] coordinates {(-.369,-.517)(-.334,-.497)(-.279,-.517)(-.229,-.546)(-.274,-.561)(-.324,-.561)(-.359,-.541)};
\addplot[F=w2] coordinates {(-.359,-.517)(-.334,-.512)(-.329,-.531)(-.349,-.536)};
\addplot[F=c1] coordinates {(-.254,-.487)(-.199,-.482)(-.196,-.517)(-.219,-.507)};
\addplot[F=w1] coordinates {(.258,-.107)(.308,-.097)(.338,-.117)(.403,-.127)(.408,-.186)(.454,-.240)(.459,-.280)(.489,-.329)(.499,-.418)(.559,-.477)(.499,-.527)(.504,-.551)(.469,-.596)(.449,-.611)(.439,-.586)(.379,-.611)(.384,-.591)(.424,-.576)(.384,-.546)(.419,-.502)(.394,-.477)(.299,-.467)(.274,-.467)(.294,-.418)(.258,-.369)(.208,-.354)(.218,-.299)(.238,-.210)(.263,-.161)};
\addplot[F=w2] coordinates {(.268,-.156)(.323,-.127)(.388,-.147)(.388,-.186)(.348,-.201)(.384,-.240)(.449,-.260)(.454,-.299)(.479,-.349)(.479,-.418)(.499,-.487)(.474,-.527)(.439,-.487)(.414,-.462)(.348,-.482)(.294,-.447)(.294,-.398)(.238,-.349)(.233,-.319)(.299,-.349)(.309,-.299)(.334,-.230)(.308,-.176)(.268,-.171)};
\addplot[F=w3] coordinates {(.328,-.141)(.348,-.147)(.348,-.201)(.328,-.191)};
\addplot[F=w3] coordinates {(.338,-.245)(.373,-.235)(.449,-.275)(.464,-.329)(.449,-.408)(.399,-.413)(.348,-.364)(.310,-.309)};
\addplot[F=w4] coordinates {(.348,-.260)(.373,-.245)(.444,-.280)(.454,-.334)(.439,-.388)(.399,-.403)(.364,-.369)(.319,-.309)};
\addplot[F=w5] coordinates {(.358,-.275)(.378,-.265)(.444,-.294)(.439,-.349)(.414,-.383)(.384,-.364)(.349,-.309)};
\addplot[F=w3] coordinates {(.299,-.433)(.324,-.413)(.344,-.428)(.334,-.443)(.304,-.443)};
\addplot[F=white] coordinates {(.278,-.275)(.298,-.265)(.303,-.285)(.283,-.289)};
\addplot[F=c1] coordinates {(.233,-.522)(.288,-.512)(.333,-.492)(.368,-.517)(.328,-.556)(.308,-.596)(.278,-.601)(.213,-.601)(.243,-.566)};
\addplot[F=c2] coordinates {(.243,-.532)(.283,-.517)(.283,-.537)(.258,-.561)};
\addplot[F=w1] coordinates {(.193,-.502)(.248,-.492)(.208,-.527)};
\addplot[S=c1] coordinates {(-.490,.234)(-.490,.229)(nan,nan)(-.489,.175)(-.466,.177)(nan,nan)(-.507,.125)(-.504,.116)(nan,nan)(.338,.061)(.338,.051)(nan,nan)(-.367,-.055)(-.359,-.057)(nan,nan)(-.158,-.072)(-.138,-.074)(nan,nan)(.559,-.033)(.559,-.057)(nan,nan)(.499,-.166)(.500,-.168)(nan,nan)(.539,-.176)(.539,-.178)(nan,nan)(.087,.595)(.097,.590)(nan,nan)(.132,.565)(.172,.565)(nan,nan)(.152,.590)(.168,.595)(nan,nan)(.238,.486)(.248,.486)(nan,nan)(.203,.516)(.203,.512)(nan,nan)(-.148,-.536)(-.140,-.545)(nan,nan)(-.163,-.546)(-.133,-.546)(nan,nan)(-.184,-.586)(-.163,-.586)(nan,nan)(-.083,-.551)(-.083,-.553)(nan,nan)(-.073,-.581)(-.073,-.584)(nan,nan)(-.028,-.532)(-.008,-.535)(nan,nan)(.107,-.532)(.107,-.534)(nan,nan)(.022,-.574)(.030,-.581)};
\addplot[S=w1] coordinates {(-.217,.506)(-.217,.491)(nan,nan)(.072,.568)(.082,.565)(nan,nan)(.243,.615)(.243,.610)(nan,nan)(.303,.608)(.308,.605)(nan,nan)(-.172,.071)(-.168,.071)(nan,nan)(.272,.010)(.278,.010)(nan,nan)(.142,-.067)(.178,-.065)(nan,nan)(.488,.279)(.511,.274)(nan,nan)(.460,.177)(.480,.177)(nan,nan)(.529,.170)(.544,.130)(nan,nan)(-.259,.432)(-.252,.429)(nan,nan)(-.314,-.601)(-.254,-.594)(nan,nan)(-.254,-.581)(-.250,-.581)(nan,nan)(.047,-.554)(.102,-.551)(nan,nan)(.137,-.558)(.183,-.554)(nan,nan)(.162,-.576)(.168,-.588)(nan,nan)(.002,-.591)(.015,-.594)(nan,nan)(-.058,-.556)(-.055,-.556)};
\addplot[S=w2] coordinates {(.308,.526)(.333,.540)(nan,nan)(-.279,-.535)(-.264,-.538)(nan,nan)(.413,-.541)(.413,-.543)(nan,nan)(.468,-.546)(.475,-.543)};
\addplot[S=c3] coordinates {(.323,.175)(.330,.168)(nan,nan)(.445,.530)(.450,.525)};
\addplot[S=c2] coordinates {(.293,.387)(.305,.385)(nan,nan)(-.209,-.497)(-.199,-.502)};
\addplot[S=white] coordinates {(.248,.284)(.248,.280)(nan,nan)(-.415,-.532)(-.409,-.532)};
\end{axis}
\levelbar{31.28}{11.95}{4.63}
\node[font=\fontsize{23.5}{25}\selectfont] at (5.64,0.71) {(a)};
\node[font=\fontsize{23.5}{25}\selectfont] at (20.08,0.71) {(b)};
\node[font=\fontsize{23.5}{25}\selectfont] at (34.51,0.71) {(c)};
\end{tikzpicture}
\end{document}
